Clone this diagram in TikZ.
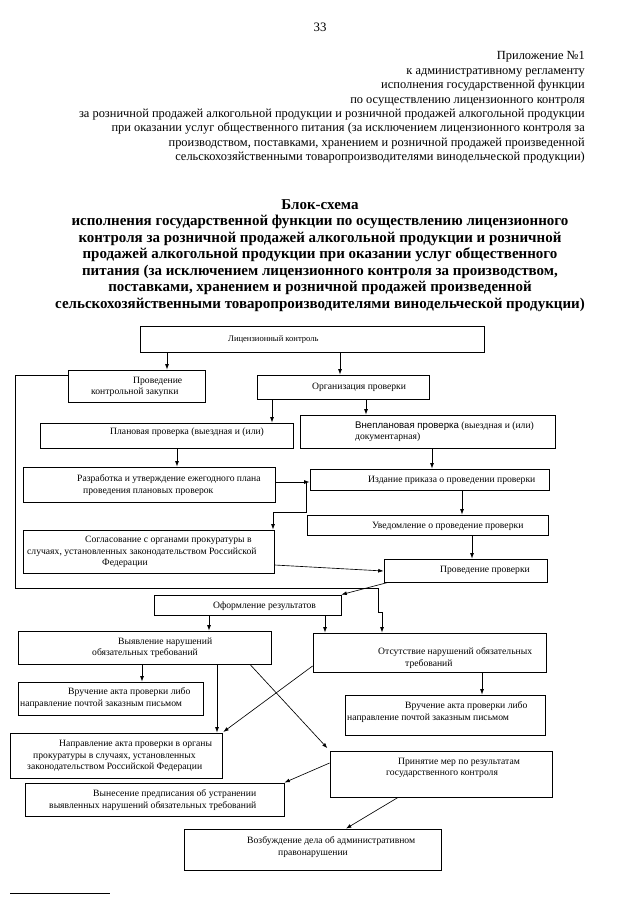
\documentclass[tikz,border=0pt]{standalone}
\usepackage{fontspec}
\setmainfont{Liberation Serif}
\newfontfamily\arialfont{Liberation Sans}
\usetikzlibrary{fit,arrows.meta}
\newlength\px
\setlength\px{0.3282mm}

\tikzset{
  box/.style={draw, line width=0.8pt, inner sep=0pt},
  txt/.style={inner sep=0pt, anchor=west, align=left, font=\fontsize{9}{10.6}\selectfont},
  arr/.style={line width=0.6pt, -{Latex[length=5pt,width=3.6pt]}},
  ln/.style={line width=0.6pt},
}

\begin{document}
\begin{tikzpicture}[x=0.3282mm, y=-0.3282mm]
      \useasboundingbox[fill=white] (0,0) rectangle (640,905);

      %% page header
      \node (pg) at (320,27) {\fontsize{12}{14}\selectfont 33};
      \node[anchor=east, align=right, inner sep=0pt, font=\fontsize{11.6}{13.43}\selectfont] (hdr) at (585,107.5)
        {Приложение №1\\
         к административному регламенту\\
         исполнения государственной функции\\
         по осуществлению лицензионного контроля\\
         за розничной продажей алкогольной продукции и розничной продажей алкогольной продукции\\
         при оказании услуг общественного питания (за исключением лицензионного контроля за\\
         производством, поставками, хранением и розничной продажей произведенной\\
         сельскохозяйственными товаропроизводителями винодельческой продукции)};

      %% title
      \node[align=center, inner sep=0pt, font=\bfseries\fontsize{14}{15.35}\selectfont] (ttl) at (320,255.5)
        {Блок-схема\\
         исполнения государственной функции по осуществлению лицензионного\\
         контроля за розничной продажей алкогольной продукции и розничной\\
         продажей алкогольной продукции при оказании услуг общественного\\
         питания (за исключением лицензионного контроля за производством,\\
         поставками, хранением и розничной продажей произведенной\\
         сельскохозяйственными товаропроизводителями винодельческой продукции)};

      %% boxes
      \node[box, fit={(140,326) (484,352)}] (lk) {};    % licence control
      \node[box, fit={(68,370) (205,402)}] (zak) {};    % test purchase
      \node[box, fit={(257,375) (429,399)}] (org) {};   % organisation
      \node[box, fit={(40,423) (293,448)}] (plan) {};   % planned
      \node[box, fit={(300,415) (555,448)}] (vnepl) {}; % unplanned
      \node[box, fit={(23,467) (275,502)}] (razr) {};   % yearly plan
      \node[box, fit={(310,469) (549,490)}] (izd) {};   % order
      \node[box, fit={(307,515) (548,535)}] (uved) {};  % notice
      \node[box, fit={(23,530) (274,573)}] (sogl) {};   % prosecutor
      \node[box, fit={(384,559) (547,582)}] (prov) {};  % inspection
      \node[box, fit={(154,595) (341,615)}] (oform) {}; % results
      \node[box, fit={(18,631) (271,664)}] (vyyav) {};  % violations found
      \node[box, fit={(313,633) (546,672)}] (otsut) {}; % no violations
      \node[box, fit={(18,682) (203,715)}] (vrucha) {}; % act 1
      \node[box, fit={(345,695) (545,735)}] (vruchb) {};% act 2
      \node[box, fit={(10,733) (222,778)}] (napr) {};   % act to prosecutor
      \node[box, fit={(330,751) (552,797)}] (prin) {};  % measures
      \node[box, fit={(25,783) (284,816)}] (vyn) {};    % order to fix
      \node[box, fit={(184,829) (441,870)}] (vozb) {};  % case

      %% box texts
      \node[txt, font=\fontsize{8}{10}\selectfont] (lk-t) at (228,339) {Лицензионный контроль};
      \node[txt] (zak-t) at (91,387) {\hspace*{42\px}Проведение\\контрольной закупки};
      \node[txt] (org-t) at (312,387) {Организация проверки};
      \node[txt] (plan-t) at (110,432) {Плановая проверка (выездная и (или)};
      \node[txt] (vnepl-t) at (355,432) {{\arialfont Внеплановая проверка} (выездная и (или)\\документарная)};
      \node[txt] (razr-t) at (77,485) {Разработка и утверждение ежегодного плана\\\hspace*{6\px}проведения плановых проверок};
      \node[txt] (izd-t) at (368,480) {Издание приказа о проведении проверки};
      \node[txt] (uved-t) at (372,526) {Уведомление о проведение проверки};
      \node[txt] (sogl-t) at (27,552) {\hspace*{58\px}Согласование с органами прокуратуры в\\случаях, установленных законодательством Российской\\\hspace*{75\px}Федерации};
      \node[txt] (prov-t) at (440,570) {Проведение проверки};
      \node[txt] (oform-t) at (213,606) {Оформление результатов};
      \node[txt] (vyyav-t) at (92,648) {\hspace*{26\px}Выявление нарушений\\обязательных требований};
      \node[txt] (otsut-t) at (378,658) {Отсутствие нарушений обязательных\\\hspace*{27\px}требований};
      \node[txt] (vrucha-t) at (20,698) {\hspace*{48\px}Вручение акта проверки либо\\направление почтой заказным письмом};
      \node[txt] (vruchb-t) at (347,712) {\hspace*{58\px}Вручение акта проверки либо\\направление почтой заказным письмом};
      \node[txt] (napr-t) at (27,756) {\hspace*{32\px}Направление акта проверки в органы\\\hspace*{6\px}прокуратуры в случаях, установленных\\законодательством Российской Федерации};
      \node[txt] (prin-t) at (386,768) {\hspace*{12\px}Принятие мер по результатам\\государственного контроля};
      \node[txt] (vyn-t) at (49,800) {\hspace*{44\px}Вынесение предписания об устранении\\выявленных нарушений обязательных требований};
      \node[txt] (vozb-t) at (247,847) {Возбуждение дела об административном\\\hspace*{31\px}правонарушении};

      %% connectors
      % lk -> zak
      \draw[arr] (lk.south -| 167,0) -- (zak.north -| 167,0);
      % lk -> org
      \draw[arr] (lk.south -| 340,0) -- (org.north -| 340,0);
      % zak -> otsut, round the left side
      \draw[arr] (zak.west |- 0,375) -- (15,375) -- (15,588) -- (378,588) -- (378,612) -- (382,612) -- (otsut.north -| 382,0);
      % org -> plan
      \draw[arr] (org.south -| 272,0) -- (plan.north -| 272,0);
      % org -> vnepl
      \draw[arr] (org.south -| 366,0) -- (vnepl.north -| 366,0);
      % plan -> razr
      \draw[arr] (plan.south -| 177,0) -- (razr.north -| 177,0);
      % vnepl -> izd
      \draw[arr] (vnepl.south -| 432,0) -- (izd.north -| 432,0);
      % razr -> izd
      \draw[arr] (razr.east |- 0,482) -- (izd.west |- 0,482);
      % izd -> sogl
      \coordinate (br) at (306,482);
      \draw[arr] (br) -- (306,512) -- (273,512) -- (sogl.north -| 273,0);
      % izd -> uved
      \draw[arr] (izd.south -| 462,0) -- (uved.north -| 462,0);
      % uved -> prov
      \draw[arr] (uved.south -| 472,0) -- (prov.north -| 472,0);
      % sogl -> prov
      \draw[arr] (sogl.east |- 0,565) -- (prov.west |- 0,571);
      % prov -> oform
      \draw[arr] (prov.south -| 388,0) -- (oform.north east);
      % oform -> vyyav
      \draw[arr] (oform.south -| 209,0) -- (vyyav.north -| 209,0);
      % oform -> otsut
      \draw[arr] (oform.south -| 325,0) -- (otsut.north -| 325,0);
      % vyyav -> vrucha
      \draw[arr] (vyyav.south -| 142,0) -- (vrucha.north -| 142,0);
      % vyyav -> napr
      \draw[arr] (vyyav.south -| 217,0) -- (napr.north -| 217,0);
      % vyyav -> prin
      \draw[arr, shorten >=3pt] (vyyav.south -| 250,0) -- (prin.north west);
      % otsut -> napr
      \draw[arr, shorten >=1pt] (otsut.west |- 0,666) -- (napr.north east);
      % otsut -> vruchb
      \draw[arr] (otsut.south -| 482,0) -- (vruchb.north -| 482,0);
      % prin -> vyn
      \draw[arr] (prin.west |- 0,763) -- (vyn.north east);
      % prin -> vozb
      \draw[arr] (prin.south -| 398,0) -- (vozb.north -| 346,0);

      %% footnote rule
      \draw[ln] (10,893) -- (110,893);
\end{tikzpicture}
\end{document}
